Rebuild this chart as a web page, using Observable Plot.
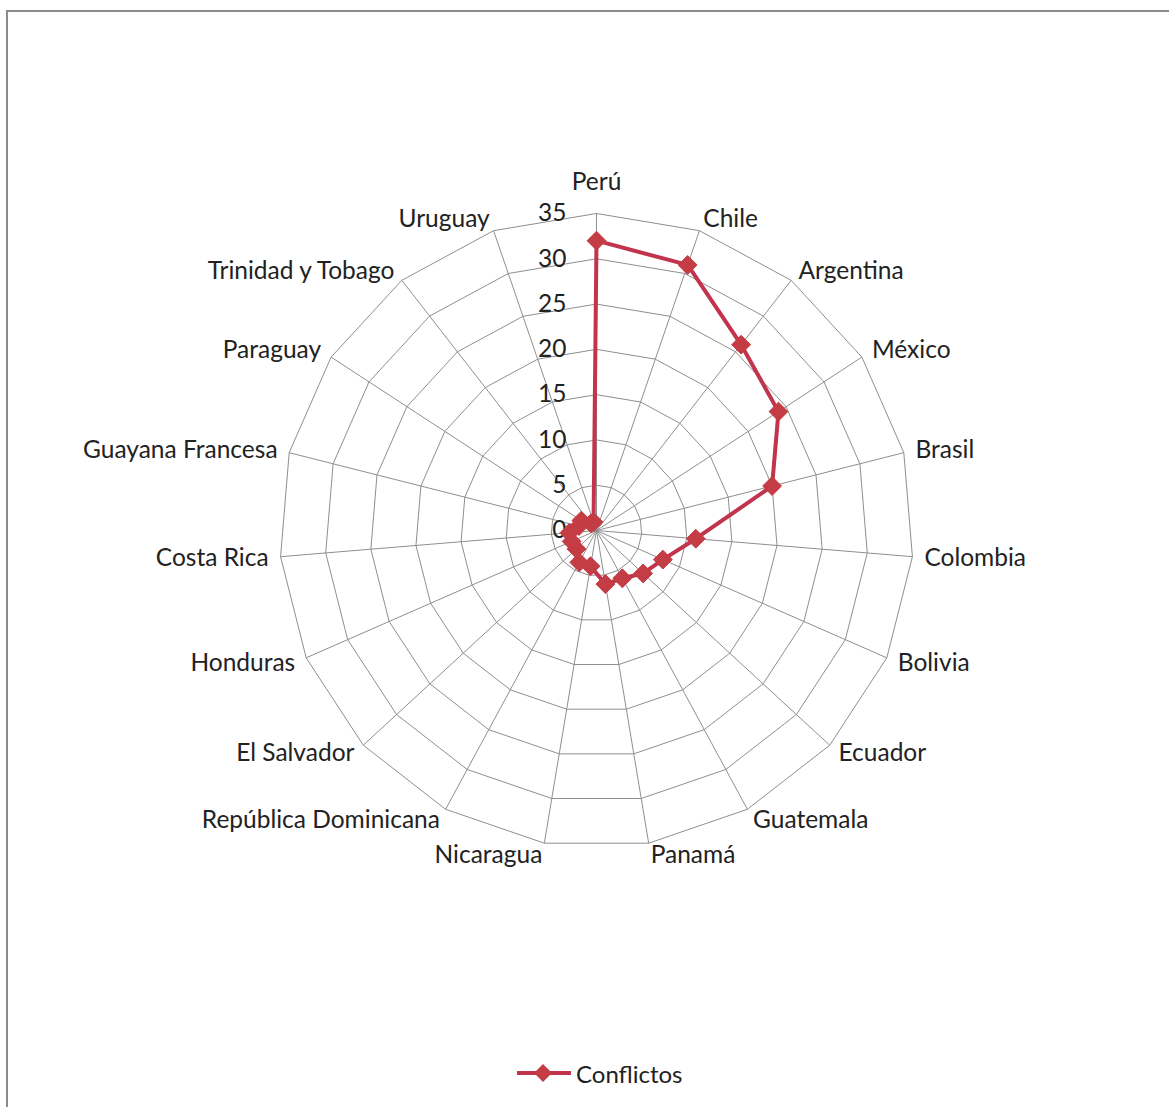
<!DOCTYPE html>
<html><head><meta charset="utf-8">
<script src="https://cdn.jsdelivr.net/npm/d3@7"></script>
<script src="https://cdn.jsdelivr.net/npm/@observablehq/plot@0.6"></script>
<style>
body{margin:0;background:#fff;width:1169px;height:1107px;overflow:hidden;position:relative;font-family:Lato,sans-serif}
#frame{position:absolute;left:6px;top:10px;width:1300px;height:1300px;border-left:2px solid #8c8c8c;border-top:2px solid #8c8c8c;box-sizing:border-box}
#chart{position:absolute;left:0;top:0}
#legend{position:absolute;left:515px;top:1058px;display:flex;align-items:center;height:30px}
#legend span{font-size:24px;color:#222;margin-left:3px}
</style></head>
<body>
<div id="frame"></div>
<div id="chart"></div>
<div id="legend"><svg width="58" height="30"><line x1="2" y1="15" x2="56" y2="15" stroke="#c2334d" stroke-width="4"/><path d="M28,6 L37,15 L28,24 L19,15 Z" fill="#c43c44"/></svg><span>Conflictos</span></div>
<script>
const categories = ["Perú","Chile","Argentina","México","Brasil","Colombia","Bolivia","Ecuador","Guatemala","Panamá","Nicaragua","República Dominicana","El Salvador","Honduras","Costa Rica","Guayana Francesa","Paraguay","Trinidad y Tobago","Uruguay"];
const conflictos = [32, 31, 26, 24, 20, 11, 8, 7, 6, 6, 4, 4, 3, 3, 3, 2, 2, 1, 1];
const tickValues = [0, 5, 10, 15, 20, 25, 30, 35];

const N = categories.length;
const rMax = d3.max(tickValues);
const ang = i => 2 * Math.PI * i / N;
const pt = (i, v) => ({x: v * Math.sin(ang(i)), y: v * Math.cos(ang(i))});

const rings = tickValues.filter(t => t > 0).flatMap(t => d3.range(N + 1).map(i => ({ring: t, ...pt(i % N, t)})));
const spokes = categories.map((c, i) => ({name: c, ...pt(i, rMax)}));
const series = conflictos.map((v, i) => ({name: categories[i], value: v, ...pt(i, v)}));
const seriesClosed = [...series, series[0]];

const pxPerUnit = 317 / rMax;
const labels = categories.map((c, i) => {
  const s = Math.sin(ang(i));
  const anchor = Math.abs(s) < 0.05 ? "middle" : (s > 0 ? "start" : "end");
  const off = anchor === "middle" ? 31 : 12;
  return {name: c, anchor, ...pt(i, rMax + off / pxPerUnit)};
});

const textStyle = {fontSize: 24.5, fill: "#222", fontFamily: "Lato"};
const red = "#c2334d";

const chart = Plot.plot({
  width: 1169,
  height: 1040,
  x: {domain: [-rMax, rMax], range: [279, 913], axis: null},
  y: {domain: [-rMax, rMax], range: [847, 213], axis: null},
  style: {background: "transparent", overflow: "visible"},
  marks: [
    Plot.link(spokes, {x1: () => 0, y1: () => 0, x2: "x", y2: "y", stroke: "#8f8f8f", strokeWidth: 1}),
    Plot.line(rings, {x: "x", y: "y", z: "ring", stroke: "#8f8f8f", strokeWidth: 1, curve: "linear"}),
    Plot.text(tickValues, {x: () => 0, y: d => d, text: d => String(d), textAnchor: "end", dx: -30, ...textStyle}),
    Plot.text(labels.filter(d => d.anchor === "start"), {x: "x", y: "y", text: "name", textAnchor: "start", ...textStyle}),
    Plot.text(labels.filter(d => d.anchor === "end"), {x: "x", y: "y", text: "name", textAnchor: "end", ...textStyle}),
    Plot.text(labels.filter(d => d.anchor === "middle"), {x: "x", y: "y", text: "name", textAnchor: "middle", ...textStyle}),
    Plot.line(seriesClosed, {x: "x", y: "y", stroke: red, strokeWidth: 4, strokeLinejoin: "round"}),
    Plot.dot(series, {x: "x", y: "y", symbol: "diamond2", r: 8.5, fill: "#c43c44", stroke: "#c43c44", strokeWidth: 1})
  ]
});
document.getElementById("chart").appendChild(chart);
</script>
</body></html>
